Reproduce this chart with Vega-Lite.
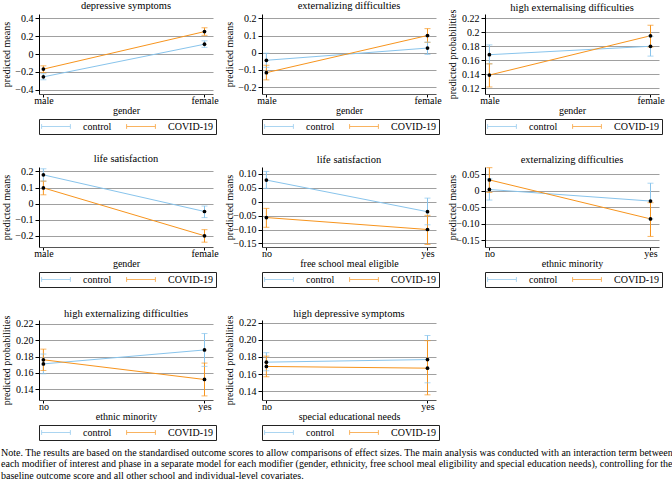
{
 "$schema": "https://vega.github.io/schema/vega-lite/v6.json",
 "padding": {"left": 1, "top": 0, "right": 0, "bottom": 0},
 "background": "white",
 "data": {"values": [
  {"p":1,"x":"male","g":"control","m":-0.257,"lo":-0.29,"hi":-0.222},
  {"p":1,"x":"female","g":"control","m":0.11,"lo":0.075,"hi":0.148},
  {"p":1,"x":"male","g":"COVID-19","m":-0.17,"lo":-0.21,"hi":-0.133},
  {"p":1,"x":"female","g":"COVID-19","m":0.252,"lo":0.21,"hi":0.295},
  {"p":2,"x":"male","g":"control","m":-0.044,"lo":-0.085,"hi":-0.003},
  {"p":2,"x":"female","g":"control","m":0.027,"lo":-0.01,"hi":0.062},
  {"p":2,"x":"male","g":"COVID-19","m":-0.116,"lo":-0.158,"hi":-0.073},
  {"p":2,"x":"female","g":"COVID-19","m":0.1,"lo":0.06,"hi":0.14},
  {"p":3,"x":"male","g":"control","m":0.168,"lo":0.155,"hi":0.182},
  {"p":3,"x":"female","g":"control","m":0.18,"lo":0.166,"hi":0.194},
  {"p":3,"x":"male","g":"COVID-19","m":0.139,"lo":0.122,"hi":0.155},
  {"p":3,"x":"female","g":"COVID-19","m":0.195,"lo":0.179,"hi":0.21},
  {"p":4,"x":"male","g":"control","m":0.179,"lo":0.14,"hi":0.217},
  {"p":4,"x":"female","g":"control","m":-0.049,"lo":-0.087,"hi":-0.015},
  {"p":4,"x":"male","g":"COVID-19","m":0.098,"lo":0.055,"hi":0.14},
  {"p":4,"x":"female","g":"COVID-19","m":-0.2,"lo":-0.24,"hi":-0.162},
  {"p":5,"x":"no","g":"control","m":0.078,"lo":0.048,"hi":0.109},
  {"p":5,"x":"yes","g":"control","m":-0.036,"lo":-0.083,"hi":0.013},
  {"p":5,"x":"no","g":"COVID-19","m":-0.057,"lo":-0.092,"hi":-0.024},
  {"p":5,"x":"yes","g":"COVID-19","m":-0.1,"lo":-0.154,"hi":-0.049},
  {"p":6,"x":"no","g":"control","m":0.004,"lo":-0.028,"hi":0.036},
  {"p":6,"x":"yes","g":"control","m":-0.031,"lo":-0.085,"hi":0.023},
  {"p":6,"x":"no","g":"COVID-19","m":0.033,"lo":-0.005,"hi":0.07},
  {"p":6,"x":"yes","g":"COVID-19","m":-0.085,"lo":-0.138,"hi":-0.036},
  {"p":7,"x":"no","g":"control","m":0.171,"lo":0.159,"hi":0.183},
  {"p":7,"x":"yes","g":"control","m":0.188,"lo":0.168,"hi":0.208},
  {"p":7,"x":"no","g":"COVID-19","m":0.176,"lo":0.163,"hi":0.189},
  {"p":7,"x":"yes","g":"COVID-19","m":0.152,"lo":0.132,"hi":0.172},
  {"p":8,"x":"no","g":"control","m":0.174,"lo":0.164,"hi":0.185},
  {"p":8,"x":"yes","g":"control","m":0.177,"lo":0.15,"hi":0.205},
  {"p":8,"x":"no","g":"COVID-19","m":0.169,"lo":0.157,"hi":0.181},
  {"p":8,"x":"yes","g":"COVID-19","m":0.167,"lo":0.136,"hi":0.199}
 ]},
 "columns": 3,
 "spacing": {"row": 18, "column": 5},
 "align": "all",
 "concat": [
  {"title": {"text": "depressive symptoms", "offset": 2}, "width": 174, "height": 80,
   "transform": [{"filter": "datum.p == 1"}],
   "encoding": {
    "x": {"field": "x", "type": "ordinal", "scale": {"type": "point", "domain": ["male","female"], "padding": 0.04, "align": 0.34}, "axis": {"title": "gender"}},
    "color": {"field": "g", "type": "nominal", "scale": {"domain": ["control","COVID-19"], "range": ["#88c4ec","#f7941d"]},
     "legend": {"title": null, "orient": "bottom", "direction": "horizontal", "symbolType": "M-3.6,-0.6L-3.6,0.6M-3.6,0L3.6,0M3.6,-0.6L3.6,0.6", "symbolSize": 64, "symbolOffset": 9.5, "labelOffset": 22, "columnPadding": 13, "padding": 2.5, "strokeColor": "#222", "offset": 4, "symbolStrokeWidth": 1, "labelFontSize": 10, "labelFont": "Liberation Serif", "labelColor": "black"}}
   },
   "layer": [
    {"mark": {"type": "line", "strokeWidth": 1}, "encoding": {"y": {"field": "m", "type": "quantitative", "title": "predicted means", "scale": {"domain": [-0.45,0.45], "nice": false, "zero": false}, "axis": {"values": [-0.4,-0.2,0,0.2,0.4], "tickCount": 20, "labelExpr": "datum.value == 0 ? '0' : format(datum.value, '.1f')"}}}},
    {"mark": {"type": "rule", "strokeWidth": 1}, "encoding": {"y": {"field": "lo", "type": "quantitative", "title": "predicted means", "scale": {"domain": [-0.45,0.45], "nice": false, "zero": false}}, "y2": {"field": "hi"}}},
    {"mark": {"type": "tick", "thickness": 1, "size": 6}, "encoding": {"y": {"field": "lo", "type": "quantitative", "title": "predicted means", "scale": {"domain": [-0.45,0.45], "nice": false, "zero": false}}}},
    {"mark": {"type": "tick", "thickness": 1, "size": 6}, "encoding": {"y": {"field": "hi", "type": "quantitative", "title": "predicted means", "scale": {"domain": [-0.45,0.45], "nice": false, "zero": false}}}},
    {"mark": {"type": "point", "filled": true, "size": 14, "opacity": 1}, "encoding": {"y": {"field": "m", "type": "quantitative", "title": "predicted means", "scale": {"domain": [-0.45,0.45], "nice": false, "zero": false}}, "color": {"value": "black"}}}
   ]},
  {"title": {"text": "externalizing difficulties", "offset": 2}, "width": 174, "height": 80,
   "transform": [{"filter": "datum.p == 2"}],
   "encoding": {
    "x": {"field": "x", "type": "ordinal", "scale": {"type": "point", "domain": ["male","female"], "padding": 0.04, "align": 0.34}, "axis": {"title": "gender"}},
    "color": {"field": "g", "type": "nominal", "scale": {"domain": ["control","COVID-19"], "range": ["#88c4ec","#f7941d"]},
     "legend": {"title": null, "orient": "bottom", "direction": "horizontal", "symbolType": "M-3.6,-0.6L-3.6,0.6M-3.6,0L3.6,0M3.6,-0.6L3.6,0.6", "symbolSize": 64, "symbolOffset": 9.5, "labelOffset": 22, "columnPadding": 13, "padding": 2.5, "strokeColor": "#222", "offset": 4, "symbolStrokeWidth": 1, "labelFontSize": 10, "labelFont": "Liberation Serif", "labelColor": "black"}}
   },
   "layer": [
    {"mark": {"type": "line", "strokeWidth": 1}, "encoding": {"y": {"field": "m", "type": "quantitative", "title": "predicted means", "scale": {"domain": [-0.24,0.225], "nice": false, "zero": false}, "axis": {"values": [-0.2,-0.1,0,0.1,0.2], "tickCount": 20, "labelExpr": "datum.value == 0 ? '0' : format(datum.value, '.1f')"}}}},
    {"mark": {"type": "rule", "strokeWidth": 1}, "encoding": {"y": {"field": "lo", "type": "quantitative", "title": "predicted means", "scale": {"domain": [-0.24,0.225], "nice": false, "zero": false}}, "y2": {"field": "hi"}}},
    {"mark": {"type": "tick", "thickness": 1, "size": 6}, "encoding": {"y": {"field": "lo", "type": "quantitative", "title": "predicted means", "scale": {"domain": [-0.24,0.225], "nice": false, "zero": false}}}},
    {"mark": {"type": "tick", "thickness": 1, "size": 6}, "encoding": {"y": {"field": "hi", "type": "quantitative", "title": "predicted means", "scale": {"domain": [-0.24,0.225], "nice": false, "zero": false}}}},
    {"mark": {"type": "point", "filled": true, "size": 14, "opacity": 1}, "encoding": {"y": {"field": "m", "type": "quantitative", "title": "predicted means", "scale": {"domain": [-0.24,0.225], "nice": false, "zero": false}}, "color": {"value": "black"}}}
   ]},
  {"title": {"text": "high externalising difficulties", "offset": -4}, "width": 174, "height": 80,
   "transform": [{"filter": "datum.p == 3"}],
   "encoding": {
    "x": {"field": "x", "type": "ordinal", "scale": {"type": "point", "domain": ["male","female"], "padding": 0.04, "align": 0.34}, "axis": {"title": "gender"}},
    "color": {"field": "g", "type": "nominal", "scale": {"domain": ["control","COVID-19"], "range": ["#88c4ec","#f7941d"]},
     "legend": {"title": null, "orient": "bottom", "direction": "horizontal", "symbolType": "M-3.6,-0.6L-3.6,0.6M-3.6,0L3.6,0M3.6,-0.6L3.6,0.6", "symbolSize": 64, "symbolOffset": 9.5, "labelOffset": 22, "columnPadding": 13, "padding": 2.5, "strokeColor": "#222", "offset": 4, "symbolStrokeWidth": 1, "labelFontSize": 10, "labelFont": "Liberation Serif", "labelColor": "black"}}
   },
   "layer": [
    {"mark": {"type": "line", "strokeWidth": 1}, "encoding": {"y": {"field": "m", "type": "quantitative", "title": "predicted probabilities", "scale": {"domain": [0.112,0.226], "nice": false, "zero": false}, "axis": {"values": [0.12,0.14,0.16,0.18,0.2,0.22], "tickCount": 20, "labelExpr": "format(datum.value, '~g')"}}}},
    {"mark": {"type": "rule", "strokeWidth": 1}, "encoding": {"y": {"field": "lo", "type": "quantitative", "title": "predicted probabilities", "scale": {"domain": [0.112,0.226], "nice": false, "zero": false}}, "y2": {"field": "hi"}}},
    {"mark": {"type": "tick", "thickness": 1, "size": 6}, "encoding": {"y": {"field": "lo", "type": "quantitative", "title": "predicted probabilities", "scale": {"domain": [0.112,0.226], "nice": false, "zero": false}}}},
    {"mark": {"type": "tick", "thickness": 1, "size": 6}, "encoding": {"y": {"field": "hi", "type": "quantitative", "title": "predicted probabilities", "scale": {"domain": [0.112,0.226], "nice": false, "zero": false}}}},
    {"mark": {"type": "point", "filled": true, "size": 14, "opacity": 1}, "encoding": {"y": {"field": "m", "type": "quantitative", "title": "predicted probabilities", "scale": {"domain": [0.112,0.226], "nice": false, "zero": false}}, "color": {"value": "black"}}}
   ]},
  {"title": {"text": "life satisfaction", "offset": 2}, "width": 174, "height": 80,
   "transform": [{"filter": "datum.p == 4"}],
   "encoding": {
    "x": {"field": "x", "type": "ordinal", "scale": {"type": "point", "domain": ["male","female"], "padding": 0.04, "align": 0.34}, "axis": {"title": "gender"}},
    "color": {"field": "g", "type": "nominal", "scale": {"domain": ["control","COVID-19"], "range": ["#88c4ec","#f7941d"]},
     "legend": {"title": null, "orient": "bottom", "direction": "horizontal", "symbolType": "M-3.6,-0.6L-3.6,0.6M-3.6,0L3.6,0M3.6,-0.6L3.6,0.6", "symbolSize": 64, "symbolOffset": 9.5, "labelOffset": 22, "columnPadding": 13, "padding": 2.5, "strokeColor": "#222", "offset": 4, "symbolStrokeWidth": 1, "labelFontSize": 10, "labelFont": "Liberation Serif", "labelColor": "black"}}
   },
   "layer": [
    {"mark": {"type": "line", "strokeWidth": 1}, "encoding": {"y": {"field": "m", "type": "quantitative", "title": "predicted means", "scale": {"domain": [-0.27,0.228], "nice": false, "zero": false}, "axis": {"values": [-0.2,-0.1,0,0.1,0.2], "tickCount": 20, "labelExpr": "datum.value == 0 ? '0' : format(datum.value, '.1f')"}}}},
    {"mark": {"type": "rule", "strokeWidth": 1}, "encoding": {"y": {"field": "lo", "type": "quantitative", "title": "predicted means", "scale": {"domain": [-0.27,0.228], "nice": false, "zero": false}}, "y2": {"field": "hi"}}},
    {"mark": {"type": "tick", "thickness": 1, "size": 6}, "encoding": {"y": {"field": "lo", "type": "quantitative", "title": "predicted means", "scale": {"domain": [-0.27,0.228], "nice": false, "zero": false}}}},
    {"mark": {"type": "tick", "thickness": 1, "size": 6}, "encoding": {"y": {"field": "hi", "type": "quantitative", "title": "predicted means", "scale": {"domain": [-0.27,0.228], "nice": false, "zero": false}}}},
    {"mark": {"type": "point", "filled": true, "size": 14, "opacity": 1}, "encoding": {"y": {"field": "m", "type": "quantitative", "title": "predicted means", "scale": {"domain": [-0.27,0.228], "nice": false, "zero": false}}, "color": {"value": "black"}}}
   ]},
  {"title": {"text": "life satisfaction", "offset": 2}, "width": 174, "height": 80,
   "transform": [{"filter": "datum.p == 5"}],
   "encoding": {
    "x": {"field": "x", "type": "ordinal", "scale": {"type": "point", "domain": ["no","yes"], "padding": 0.04, "align": 0.34}, "axis": {"title": "free school meal eligible"}},
    "color": {"field": "g", "type": "nominal", "scale": {"domain": ["control","COVID-19"], "range": ["#88c4ec","#f7941d"]},
     "legend": {"title": null, "orient": "bottom", "direction": "horizontal", "symbolType": "M-3.6,-0.6L-3.6,0.6M-3.6,0L3.6,0M3.6,-0.6L3.6,0.6", "symbolSize": 64, "symbolOffset": 9.5, "labelOffset": 22, "columnPadding": 13, "padding": 2.5, "strokeColor": "#222", "offset": 4, "symbolStrokeWidth": 1, "labelFontSize": 10, "labelFont": "Liberation Serif", "labelColor": "black"}}
   },
   "layer": [
    {"mark": {"type": "line", "strokeWidth": 1}, "encoding": {"y": {"field": "m", "type": "quantitative", "title": "predicted means", "scale": {"domain": [-0.163,0.125], "nice": false, "zero": false}, "axis": {"values": [-0.15,-0.1,-0.05,0,0.05,0.1], "tickCount": 20, "labelExpr": "datum.value == 0 ? '0' : format(datum.value, '.2f')"}}}},
    {"mark": {"type": "rule", "strokeWidth": 1}, "encoding": {"y": {"field": "lo", "type": "quantitative", "title": "predicted means", "scale": {"domain": [-0.163,0.125], "nice": false, "zero": false}}, "y2": {"field": "hi"}}},
    {"mark": {"type": "tick", "thickness": 1, "size": 6}, "encoding": {"y": {"field": "lo", "type": "quantitative", "title": "predicted means", "scale": {"domain": [-0.163,0.125], "nice": false, "zero": false}}}},
    {"mark": {"type": "tick", "thickness": 1, "size": 6}, "encoding": {"y": {"field": "hi", "type": "quantitative", "title": "predicted means", "scale": {"domain": [-0.163,0.125], "nice": false, "zero": false}}}},
    {"mark": {"type": "point", "filled": true, "size": 14, "opacity": 1}, "encoding": {"y": {"field": "m", "type": "quantitative", "title": "predicted means", "scale": {"domain": [-0.163,0.125], "nice": false, "zero": false}}, "color": {"value": "black"}}}
   ]},
  {"title": {"text": "externalizing difficulties", "offset": 2}, "width": 174, "height": 80,
   "transform": [{"filter": "datum.p == 6"}],
   "encoding": {
    "x": {"field": "x", "type": "ordinal", "scale": {"type": "point", "domain": ["no","yes"], "padding": 0.04, "align": 0.34}, "axis": {"title": "ethnic minority"}},
    "color": {"field": "g", "type": "nominal", "scale": {"domain": ["control","COVID-19"], "range": ["#88c4ec","#f7941d"]},
     "legend": {"title": null, "orient": "bottom", "direction": "horizontal", "symbolType": "M-3.6,-0.6L-3.6,0.6M-3.6,0L3.6,0M3.6,-0.6L3.6,0.6", "symbolSize": 64, "symbolOffset": 9.5, "labelOffset": 22, "columnPadding": 13, "padding": 2.5, "strokeColor": "#222", "offset": 4, "symbolStrokeWidth": 1, "labelFontSize": 10, "labelFont": "Liberation Serif", "labelColor": "black"}}
   },
   "layer": [
    {"mark": {"type": "line", "strokeWidth": 1}, "encoding": {"y": {"field": "m", "type": "quantitative", "title": "predicted means", "scale": {"domain": [-0.17,0.072], "nice": false, "zero": false}, "axis": {"values": [-0.15,-0.1,-0.05,0,0.05], "tickCount": 20, "labelExpr": "datum.value == 0 ? '0' : format(datum.value, '.2f')"}}}},
    {"mark": {"type": "rule", "strokeWidth": 1}, "encoding": {"y": {"field": "lo", "type": "quantitative", "title": "predicted means", "scale": {"domain": [-0.17,0.072], "nice": false, "zero": false}}, "y2": {"field": "hi"}}},
    {"mark": {"type": "tick", "thickness": 1, "size": 6}, "encoding": {"y": {"field": "lo", "type": "quantitative", "title": "predicted means", "scale": {"domain": [-0.17,0.072], "nice": false, "zero": false}}}},
    {"mark": {"type": "tick", "thickness": 1, "size": 6}, "encoding": {"y": {"field": "hi", "type": "quantitative", "title": "predicted means", "scale": {"domain": [-0.17,0.072], "nice": false, "zero": false}}}},
    {"mark": {"type": "point", "filled": true, "size": 14, "opacity": 1}, "encoding": {"y": {"field": "m", "type": "quantitative", "title": "predicted means", "scale": {"domain": [-0.17,0.072], "nice": false, "zero": false}}, "color": {"value": "black"}}}
   ]},
  {"title": {"text": "high externalizing difficulties", "offset": -4}, "width": 174, "height": 80,
   "transform": [{"filter": "datum.p == 7"}],
   "encoding": {
    "x": {"field": "x", "type": "ordinal", "scale": {"type": "point", "domain": ["no","yes"], "padding": 0.04, "align": 0.34}, "axis": {"title": "ethnic minority"}},
    "color": {"field": "g", "type": "nominal", "scale": {"domain": ["control","COVID-19"], "range": ["#88c4ec","#f7941d"]},
     "legend": {"title": null, "orient": "bottom", "direction": "horizontal", "symbolType": "M-3.6,-0.6L-3.6,0.6M-3.6,0L3.6,0M3.6,-0.6L3.6,0.6", "symbolSize": 64, "symbolOffset": 9.5, "labelOffset": 22, "columnPadding": 13, "padding": 2.5, "strokeColor": "#222", "offset": 4, "symbolStrokeWidth": 1, "labelFontSize": 10, "labelFont": "Liberation Serif", "labelColor": "black"}}
   },
   "layer": [
    {"mark": {"type": "line", "strokeWidth": 1}, "encoding": {"y": {"field": "m", "type": "quantitative", "title": "predicted probabilities", "scale": {"domain": [0.127,0.2245], "nice": false, "zero": false}, "axis": {"values": [0.14,0.16,0.18,0.2,0.22], "tickCount": 20, "labelExpr": "format(datum.value, '.2f')"}}}},
    {"mark": {"type": "rule", "strokeWidth": 1}, "encoding": {"y": {"field": "lo", "type": "quantitative", "title": "predicted probabilities", "scale": {"domain": [0.127,0.2245], "nice": false, "zero": false}}, "y2": {"field": "hi"}}},
    {"mark": {"type": "tick", "thickness": 1, "size": 6}, "encoding": {"y": {"field": "lo", "type": "quantitative", "title": "predicted probabilities", "scale": {"domain": [0.127,0.2245], "nice": false, "zero": false}}}},
    {"mark": {"type": "tick", "thickness": 1, "size": 6}, "encoding": {"y": {"field": "hi", "type": "quantitative", "title": "predicted probabilities", "scale": {"domain": [0.127,0.2245], "nice": false, "zero": false}}}},
    {"mark": {"type": "point", "filled": true, "size": 14, "opacity": 1}, "encoding": {"y": {"field": "m", "type": "quantitative", "title": "predicted probabilities", "scale": {"domain": [0.127,0.2245], "nice": false, "zero": false}}, "color": {"value": "black"}}}
   ]},
  {"title": {"text": "high depressive symptoms", "offset": -4}, "width": 174, "height": 80,
   "transform": [{"filter": "datum.p == 8"}],
   "encoding": {
    "x": {"field": "x", "type": "ordinal", "scale": {"type": "point", "domain": ["no","yes"], "padding": 0.04, "align": 0.34}, "axis": {"title": "special educational needs"}},
    "color": {"field": "g", "type": "nominal", "scale": {"domain": ["control","COVID-19"], "range": ["#88c4ec","#f7941d"]},
     "legend": {"title": null, "orient": "bottom", "direction": "horizontal", "symbolType": "M-3.6,-0.6L-3.6,0.6M-3.6,0L3.6,0M3.6,-0.6L3.6,0.6", "symbolSize": 64, "symbolOffset": 9.5, "labelOffset": 22, "columnPadding": 13, "padding": 2.5, "strokeColor": "#222", "offset": 4, "symbolStrokeWidth": 1, "labelFontSize": 10, "labelFont": "Liberation Serif", "labelColor": "black"}}
   },
   "layer": [
    {"mark": {"type": "line", "strokeWidth": 1}, "encoding": {"y": {"field": "m", "type": "quantitative", "title": "predicted probabilities", "scale": {"domain": [0.13,0.223], "nice": false, "zero": false}, "axis": {"values": [0.14,0.16,0.18,0.2,0.22], "tickCount": 20, "labelExpr": "format(datum.value, '.2f')"}}}},
    {"mark": {"type": "rule", "strokeWidth": 1}, "encoding": {"y": {"field": "lo", "type": "quantitative", "title": "predicted probabilities", "scale": {"domain": [0.13,0.223], "nice": false, "zero": false}}, "y2": {"field": "hi"}}},
    {"mark": {"type": "tick", "thickness": 1, "size": 6}, "encoding": {"y": {"field": "lo", "type": "quantitative", "title": "predicted probabilities", "scale": {"domain": [0.13,0.223], "nice": false, "zero": false}}}},
    {"mark": {"type": "tick", "thickness": 1, "size": 6}, "encoding": {"y": {"field": "hi", "type": "quantitative", "title": "predicted probabilities", "scale": {"domain": [0.13,0.223], "nice": false, "zero": false}}}},
    {"mark": {"type": "point", "filled": true, "size": 14, "opacity": 1}, "encoding": {"y": {"field": "m", "type": "quantitative", "title": "predicted probabilities", "scale": {"domain": [0.13,0.223], "nice": false, "zero": false}}, "color": {"value": "black"}}}
   ]}
 ],
 "resolve": {"scale": {"x": "independent", "y": "independent", "color": "shared"}, "legend": {"color": "independent"}},
 "title": {"text": ["Note. The results are based on the standardised outcome scores to allow comparisons of effect sizes. The main analysis was conducted with an interaction term between", "each modifier of interest and phase in a separate model for each modifier (gender, ethnicity, free school meal eligibility and special education needs), controlling for the", "baseline outcome score and all other school and individual-level covariates."],
  "orient": "bottom", "anchor": "start", "frame": "bounds", "font": "Liberation Serif", "fontSize": 10, "fontWeight": "normal", "lineHeight": 11.5, "offset": 7, "color": "black"},
 "config": {
  "font": "Liberation Serif",
  "view": {"stroke": null},
  "axis": {"labelFont": "Liberation Serif", "titleFont": "Liberation Serif", "labelFontSize": 10, "titleFontSize": 10, "titleFontWeight": "normal", "labelColor": "black", "titleColor": "black", "tickColor": "black", "domainColor": "black", "gridColor": "#a0a0a0", "gridOpacity": 1},
  "axisX": {"grid": false, "tickSize": 3, "labelPadding": -2, "titlePadding": 0, "labelAngle": 0, "domainColor": "#555"},
  "axisY": {"grid": true, "tickSize": 4, "labelPadding": 2, "titlePadding": 3, "minExtent": 25, "maxExtent": 25},
  "title": {"font": "Liberation Serif", "fontSize": 10.5, "fontWeight": "normal", "color": "black", "anchor": "middle"}
 }
}
